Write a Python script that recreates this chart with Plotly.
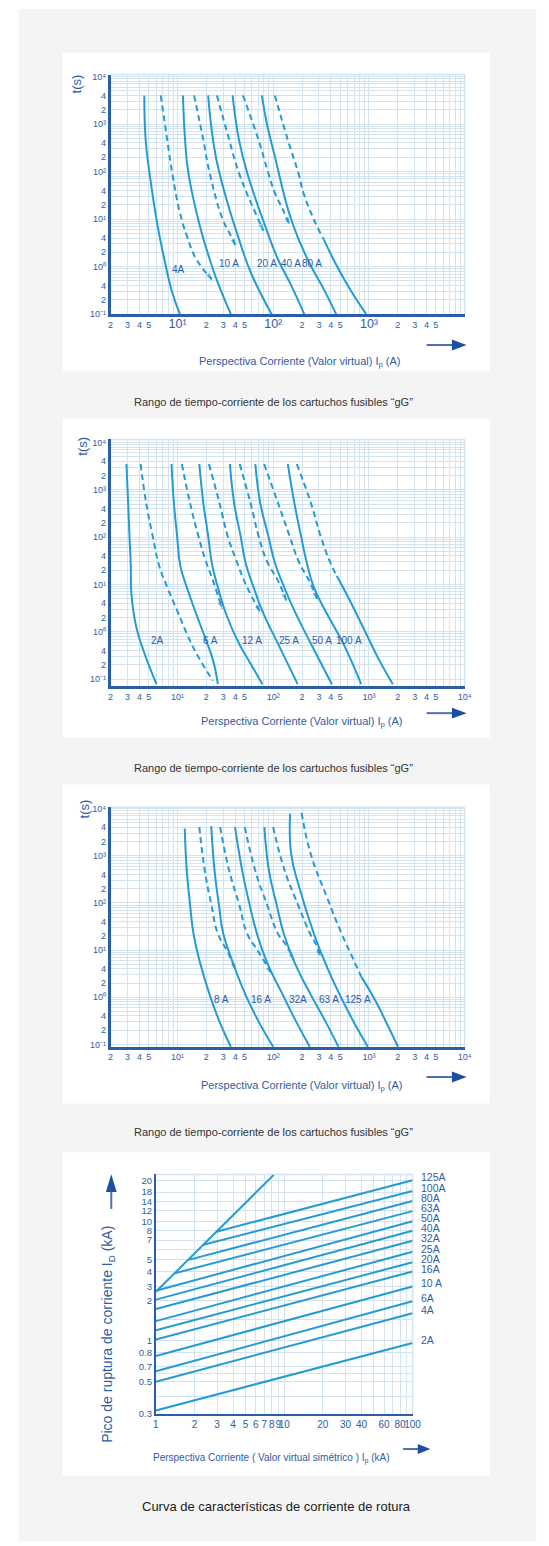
import math
import plotly.graph_objects as go

W, H = 549, 1546
CURVE = "#249bd6"
AXIS = "#2b5ea8"
GRID = "#d3e3f0"
TEXT = "#2d5ca6"
FONT = "Arial, Liberation Sans, sans-serif"

# ---------------- data ----------------
# Panel 1: gG fuses 4A..80A  (current in A, time in s)
p1_names = ["4A", "10 A", "20 A", "40 A", "80 A"]
p1_min_I = [[4.5, 4.65, 5.1, 6.2, 7.3, 8.8, 10.6],
            [11.4, 12.0, 13.0, 17.1, 21.7, 26.3, 36.1],
            [20.9, 23.5, 27.4, 47.5, 60.1, 96.2],
            [37.6, 43.9, 53.5, 82.2, 112, 154, 211],
            [76.1, 85.6, 104, 154, 228, 337, 454]]
p1_min_t = [[4000, 460, 93, 7.2, 1.4, 0.29, 0.1],
            [4000, 463, 93, 7.24, 1.43, 0.465, 0.1],
            [4000, 463, 93, 2.31, 0.652, 0.1],
            [4000, 463, 93, 7.24, 1.43, 0.403, 0.1],
            [4000, 1035, 208, 9.8, 1.43, 0.337, 0.1]]
p1_max_I = [[6.68, 7.82, 8.8, 10.6, 12.5, 15.8, 22.9],
            [14.9, 18.6, 21.7, 29.7, 36.1, 40.6],
            [25.8, 34.7, 43.9, 65.0, 79.0],
            [48.2, 70.2, 88.8, 104, 126, 148],
            [104, 142, 183, 207, 266, 337]]
p1_max_t = [[4000, 456, 93, 13.6, 4.48, 1.41, 0.537],
            [4000, 463, 93, 9.8, 4.48, 2.77],
            [4000, 463, 93, 13.6, 5.69],
            [4000, 463, 93, 35.5, 15.9, 7.71],
            [4000, 463, 93, 35.5, 9.8, 3.74]]
p1_tail_I = [337, 461, 632, 934]
p1_tail_t = [3.74, 1.04, 0.337, 0.1]
p1_lab_I = [10.3, 34.2, 85.6, 151.5, 256]
p1_lab_t = [0.88, 1.16, 1.16, 1.16, 1.16]

# Panel 2: gG fuses 2A..100A
p2_names = ["2A", "6 A", "12 A", "25 A", "50 A", "100 A"]
p2_min_I = [[2.93, 3.05, 3.15, 3.25, 3.30, 3.71, 4.52, 6.04],
            [8.66, 9.16, 9.90, 10.7, 12.5, 15.2, 19.3, 23.5, 26.4],
            [16.9, 18.6, 20.9, 22.9, 26.4, 32.1, 43.9, 57.8, 77.1],
            [35.3, 39.0, 45.6, 51.4, 62.4, 79.0, 112, 180],
            [65.0, 73.1, 88.8, 104, 126, 160, 247, 410],
            [142, 166, 195, 224, 266, 364, 540, 830]]
p2_min_t = [[3500, 531, 106, 24.8, 6.31, 1.26, 0.347, 0.078],
            [3500, 531, 106, 24.8, 8.69, 2.82, 0.774, 0.251, 0.078],
            [3500, 531, 106, 27.4, 8.69, 2.40, 0.562, 0.214, 0.078],
            [3500, 531, 106, 28.7, 8.69, 2.40, 0.562, 0.078],
            [3500, 531, 106, 28.7, 10.3, 3.30, 0.562, 0.078],
            [3500, 531, 106, 28.7, 8.69, 2.40, 0.562, 0.078]]
p2_max_I = [[4.12, 4.70, 5.50, 6.44, 7.82, 9.90, 12.5, 16.5, 23.5],
            [11.1, 13.5, 16.5, 19.7, 23.5, 29.2],
            [21.3, 27.4, 33.4, 41.3, 51.4, 73.1],
            [44.6, 57.8, 70.2, 85.6, 112, 137],
            [80.3, 112, 148, 187, 237, 288],
            [176, 247, 312, 395, 461]]
p2_max_t = [[3500, 531, 106, 24.8, 8.69, 2.82, 0.912, 0.294, 0.092],
            [3500, 531, 106, 31.6, 12.0, 3.05],
            [3500, 531, 106, 31.6, 10.3, 2.59],
            [3500, 531, 106, 31.6, 12.0, 4.57],
            [3500, 531, 106, 28.7, 12.0, 4.96],
            [3500, 531, 106, 28.7, 15.3]]
p2_tail_I = [461, 632, 934, 1279, 1778]
p2_tail_t = [15.3, 4.57, 0.912, 0.251, 0.078]
p2_lab_I = [6.18, 22.0, 60.1, 144.5, 324, 621]
p2_lab_t = [0.659] * 6

# Panel 3: gG fuses 8A..125A
p3_names = ["8 A", "16 A", "32A", "63 A", "125 A"]
p3_min_I = [[11.9, 12.5, 13.5, 14.7, 17.1, 21.7, 27.4, 36.1],
            [22.5, 24.4, 27.0, 30.1, 37.6, 51.4, 70.2, 99.9],
            [39.9, 47.5, 56.4, 67.6, 85.6, 126, 173, 241],
            [80.8, 90.3, 108, 129, 166, 247, 351, 480],
            [150, 154, 187, 266, 324, 426, 632, 972]]
p3_min_t = [[3790, 479, 95.3, 22.2, 5.64, 1.12, 0.308, 0.089],
            [4240, 479, 95.3, 22.2, 5.64, 1.12, 0.308, 0.089],
            [4040, 479, 95.3, 22.2, 5.64, 1.12, 0.308, 0.089],
            [4040, 479, 95.3, 22.2, 5.64, 1.12, 0.308, 0.089],
            [7730, 1076, 214, 22.2, 7.78, 2.14, 0.424, 0.089]]
p3_max_I = [[16.9, 19.3, 22.5, 26.4, 33.4, 40.6],
            [27.9, 34.7, 43.9, 53.5, 70.2, 96.2],
            [50.5, 65.0, 85.6, 112, 137, 164],
            [99.9, 132, 180, 243, 277, 312],
            [198, 247, 364, 518, 656, 830]]
p3_max_t = [[4040, 479, 95.3, 22.2, 9.16, 3.76],
            [4040, 479, 95.3, 22.2, 9.16, 3.20],
            [4040, 479, 95.3, 22.2, 12.6, 6.10],
            [4040, 479, 95.3, 22.2, 13.7, 7.19],
            [8120, 1076, 132, 22.2, 7.78, 2.73]]
p3_tail_I = [830, 1181, 1618, 2014]
p3_tail_t = [2.73, 0.811, 0.222, 0.089]
p3_lab_I = [28.5, 74.8, 183, 379, 768]
p3_lab_t = [0.877] * 5

# Panel 4: cut-off (let-through) current, kA
p4_names = ["125A", "100A", "80A", "63A", "50A", "40A", "32A", "25A", "20A", "16A",
            "10 A", "6A", "4A", "2A"]
p4_start_Ip = [2.95, 2.31, 1.80, 1.41, 1, 1, 1, 1, 1, 1, 1, 1, 1, 1]
p4_start_ID = [7.85, 6.18, 4.72, 3.71, 2.70, 2.30, 1.94, 1.56, 1.32, 1.12, 0.83, 0.63, 0.52, 0.31]
p4_end_Ip = [100] * 14
p4_end_ID = [19.9, 16.4, 13.7, 11.4, 9.5, 8.0, 6.67, 5.47, 4.52, 3.82, 2.92, 2.23, 1.80, 1.05]
p4_limit_Ip = [1, 8.3]
p4_limit_ID = [2.65, 22.0]

# ---------------- tick labels ----------------
SUP = {"0": "⁰", "1": "¹", "2": "²", "3": "³", "4": "⁴", "-": "⁻"}


def sup(e):
    return "10" + "".join(SUP[c] for c in str(e))


def big(s):
    return '<span style="font-size:12.5px">%s</span>' % s


p1_xvals = [2, 3, 4, 5, 10, 20, 30, 40, 50, 100, 200, 300, 400, 500, 1000, 2000, 3000, 4000, 5000]
p1_xtext = ["2", "3", "4", "5", big(sup(1)), "2", "3", "4", "5", big(sup(2)), "2", "3", "4", "5",
            big(sup(3)), "2", "3", "4", "5"]
p23_xvals = p1_xvals + [10000]
p23_xtext = ["2", "3", "4", "5", sup(1), "2", "3", "4", "5", sup(2), "2", "3", "4", "5", sup(3),
             "2", "3", "4", "5", sup(4)]
t_yvals = [10000, 4000, 2000, 1000, 400, 200, 100, 40, 20, 10, 4, 2, 1, 0.4, 0.2, 0.1]
t_ytext = [sup(4), "4", "2", sup(3), "4", "2", sup(2), "4", "2", sup(1), "4", "2", sup(0), "4", "2",
           sup(-1)]
p4_xvals = [1, 2, 3, 4, 5, 6, 7, 8, 9, 10, 20, 30, 40, 60, 80, 100]
p4_xtext = [str(v) for v in p4_xvals]
# y labels of the cut-off chart sit where the printed scale puts them
p4_yvals = [19.9, 16.1, 13.5, 11.5, 9.4, 8.0, 6.76, 4.77, 3.82, 2.92, 2.27, 1.10, 0.879, 0.683,
            0.519, 0.295]
p4_ytext = ["20", "18", "14", "12", "10", "8", "7", "5", "4", "3", "2", "1", "0.8", "0.7", "0.5",
            "0.3"]

# minor grid values (axis configuration)
grid_x = [m * 10 ** e for e in range(0, 4) for m in range(1, 10) if m * 10 ** e >= 2]
minor_x = [v for v in grid_x if v not in p23_xvals]
minor_x1 = [v for v in grid_x + [10000] if v not in p1_xvals]
grid_t = [round(m * 10.0 ** e, 6) for e in range(-1, 4) for m in range(1, 10)]
minor_t = [v for v in grid_t if all(abs(v - k) > 1e-9 for k in t_yvals)]
minor4_x = [50, 70, 90]
minor4_y = [0.4, 0.6, 1.6, 5.7]


def fx(px):
    return px / W


def fy(py):
    return 1 - py / H


fig = go.Figure()

boxes = [(110, 71, 472, 312), (110, 438, 472, 686), (110, 808, 472, 1049),
         (156.3, 1177.3, 418.7, 1418.3)]
yranges = [[-1.0, 4.04], [-1.147, 4.063], [-1.053, 4.027], [-0.537, 1.345]]


def add_curve(I, t, n, dashed=False, arrow=False):
    xa, ya = ("x", "y") if n == 1 else ("x%d" % n, "y%d" % n)
    kw = dict(x=I, y=t, xaxis=xa, yaxis=ya, mode="lines", showlegend=False, hoverinfo="skip",
              line=dict(color=CURVE, width=2, shape="spline", smoothing=1.3,
                        dash="6px,4px" if dashed else "solid"))
    if arrow:
        kw["mode"] = "lines+markers"
        kw["marker"] = dict(symbol="arrow", size=[0] * (len(I) - 1) + [7], angleref="previous",
                            color=CURVE, line=dict(width=0))
    fig.add_trace(go.Scatter(**kw))


panels = [
    (p1_min_I, p1_min_t, p1_max_I, p1_max_t, p1_tail_I, p1_tail_t),
    (p2_min_I, p2_min_t, p2_max_I, p2_max_t, p2_tail_I, p2_tail_t),
    (p3_min_I, p3_min_t, p3_max_I, p3_max_t, p3_tail_I, p3_tail_t),
]
for n, (mI, mt, xI, xt, tI, tt) in enumerate(panels, start=1):
    for I, t in zip(mI, mt):
        add_curve(I, t, n)
    for k, (I, t) in enumerate(zip(xI, xt)):
        last = k == len(xI) - 1
        full = (n == 2 and k == 0)
        add_curve(I, t, n, dashed=True, arrow=not last and not full)
    add_curve(tI, tt, n)

for s_I, s_D, e_I, e_D in zip(p4_start_Ip, p4_start_ID, p4_end_Ip, p4_end_ID):
    add_curve([s_I, e_I], [s_D, e_D], 4)
add_curve(p4_limit_Ip, p4_limit_ID, 4)

layout = dict(width=W, height=H, margin=dict(l=0, r=0, t=0, b=0),
              paper_bgcolor="white", plot_bgcolor="rgba(0,0,0,0)",
              font=dict(family=FONT, color=TEXT), showlegend=False)


def axis(domain, rng, vals, text, minor_vals, anchor, size, lw=2.5):
    return dict(type="log", domain=domain, range=rng, tickmode="array", tickvals=vals,
                ticktext=text, showgrid=True, gridcolor=GRID, gridwidth=1, zeroline=False,
                showline=True, linecolor=AXIS, linewidth=lw, ticks="", tickangle=0,
                tickfont=dict(size=size, color=TEXT, family=FONT), anchor=anchor,
                minor=dict(tickmode="array", tickvals=minor_vals, showgrid=True,
                           gridcolor=GRID, gridwidth=1, ticks=""),
                fixedrange=True)


for n in range(1, 5):
    l, t, r, b = boxes[n - 1]
    xd = [fx(l), fx(r)]
    yd = [fy(b), fy(t)]
    xk = "xaxis" if n == 1 else "xaxis%d" % n
    yk = "yaxis" if n == 1 else "yaxis%d" % n
    xa = "x" if n == 1 else "x%d" % n
    ya = "y" if n == 1 else "y%d" % n
    if n == 1:
        layout[xk] = axis(xd, [0.30103, 4], p1_xvals, p1_xtext, minor_x1, ya, 9)
    elif n < 4:
        layout[xk] = axis(xd, [0.30103, 4], p23_xvals, p23_xtext, minor_x, ya, 9)
    if n < 4:
        layout[yk] = axis(yd, yranges[n - 1], t_yvals, t_ytext, minor_t, xa, 9)
    else:
        layout[xk] = axis(xd, [0, 2], p4_xvals, p4_xtext, minor4_x, ya, 10, 2)
        layout[yk] = axis(yd, yranges[3], p4_yvals, p4_ytext, minor4_y, xa, 9.5, 2)

shapes = []
shapes.append(dict(type="rect", xref="paper", yref="paper", x0=fx(16), x1=fx(545), y0=fy(1546),
                   y1=fy(5), fillcolor="#f4f4f4", line=dict(width=0), layer="below"))
for top, bot in [(49, 369), (417, 738), (785, 1106), (1155, 1480)]:
    shapes.append(dict(type="rect", xref="paper", yref="paper", x0=fx(61), x1=fx(498),
                       y0=fy(bot), y1=fy(top), fillcolor="white", line=dict(width=0),
                       layer="below"))
for (l, t, r, b) in boxes:
    shapes.append(dict(type="line", xref="paper", yref="paper", x0=fx(l), x1=fx(r), y0=fy(t),
                       y1=fy(t), line=dict(color=GRID, width=1.5), layer="below"))
    shapes.append(dict(type="line", xref="paper", yref="paper", x0=fx(r), x1=fx(r), y0=fy(b),
                       y1=fy(t), line=dict(color=GRID, width=1.5), layer="below"))


def harrow(x0, x1, y, head=15, half=5.5):
    shapes.append(dict(type="line", xref="paper", yref="paper", x0=fx(x0), x1=fx(x1 - head + 1),
                       y0=fy(y), y1=fy(y), line=dict(color="#4d73ad", width=2)))
    path = "M %f,%f L %f,%f L %f,%f Z" % (fx(x1 - head), fy(y - half), fx(x1), fy(y),
                                          fx(x1 - head), fy(y + half))
    shapes.append(dict(type="path", xref="paper", yref="paper", path=path,
                       fillcolor="#1d4f9f", line=dict(width=0)))


harrow(433, 474, 343)
harrow(433, 474, 713.3)
harrow(433, 474, 1079.3)
harrow(409, 437, 1453.5, head=13, half=5)
shapes.append(dict(type="line", xref="paper", yref="paper", x0=fx(110.7), x1=fx(110.7),
                   y0=fy(1212), y1=fy(1193), line=dict(color="#4d73ad", width=2)))
shapes.append(dict(type="path", xref="paper", yref="paper",
                   path="M %f,%f L %f,%f L %f,%f Z" % (fx(105.2), fy(1195), fx(110.7), fy(1177),
                                                     fx(116.2), fy(1195)),
                   fillcolor="#1d4f9f", line=dict(width=0)))
layout["shapes"] = shapes

ann = []


def pa(x, y, text, size, color=TEXT, angle=0):
    ann.append(dict(xref="paper", yref="paper", x=fx(x), y=fy(y), text=text, showarrow=False,
                    font=dict(size=size, color=color, family=FONT), textangle=angle,
                    xanchor="center", yanchor="middle"))


caption = "Rango de tiempo-corriente de los cartuchos fusibles “gG”"
xtitle = "Perspectiva Corriente (Valor virtual) I<sub>p</sub> (A)"
for cy in (400, 768, 1135):
    pa(277, cy, caption, 11, "#333333")
pa(280, 1511, "Curva de características de corriente de rotura", 13, "#222222")
pa(304, 360, xtitle, 11)
pa(306, 722, xtitle, 11)
pa(306, 1088, xtitle, 11)
pa(275, 1463, "Perspectiva Corriente ( Valor virtual simétrico ) I<sub>p</sub> (kA)", 10)
pa(75.5, 80, "t(s)", 13, angle=-90)
pa(81, 445, "t(s)", 13, angle=-90)
pa(83, 810, "t(s)", 13, angle=-90)
pa(108, 1338, "Pico de ruptura de corriente I<sub>D</sub> (kA)", 14, angle=-90)

for n, (names, li, lt) in enumerate([(p1_names, p1_lab_I, p1_lab_t),
                                     (p2_names, p2_lab_I, p2_lab_t),
                                     (p3_names, p3_lab_I, p3_lab_t)], start=1):
    xa = "x" if n == 1 else "x%d" % n
    ya = "y" if n == 1 else "y%d" % n
    for name, xv, yv in zip(names, li, lt):
        ann.append(dict(xref=xa, yref=ya, x=math.log10(xv), y=math.log10(yv), text=name,
                        showarrow=False, font=dict(size=10, color=TEXT, family=FONT)))

for name, yv in zip(p4_names, p4_end_ID):
    ann.append(dict(xref="x4", yref="y4", x=2, y=math.log10(yv), text=name,
                    showarrow=False, xanchor="left", xshift=6, yshift=3,
                    font=dict(size=10.5, color=TEXT, family=FONT)))
layout["annotations"] = ann

fig.update_layout(**layout)
fig.write_html("out.html")
